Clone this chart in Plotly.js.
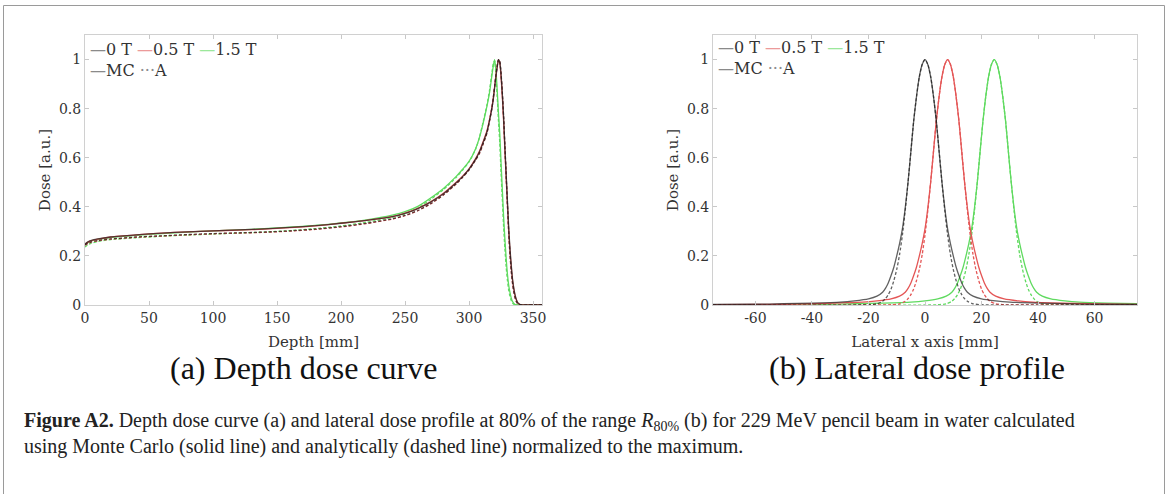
<!DOCTYPE html>
<html>
<head>
<meta charset="utf-8">
<script src="https://cdn.plot.ly/plotly-3.0.1.min.js"></script>
<style>
html,body{margin:0;padding:0;background:#fff;}
#chart{width:1168px;height:494px;}
</style>
</head>
<body>
<div id="chart"></div>
<script>
// ---------- data: (a) depth dose curve ----------
const depthMm = [0,2,5,10,20,40,60,80,100,120,140,160,180,200,220,240,250,260,270,280,290,295,300,305,308,311,314,316,318,319,320,321,322,323,324,325,326,327,328,329,330,331,332,333,334,335,336,337,338,340,345,350,357];

const depth0T_MC = [0.248,0.256,0.263,0.269,0.277,0.286,0.293,0.298,0.302,0.306,0.31,0.316,0.323,0.333,0.345,0.36,0.373,0.393,0.419,0.453,0.498,0.523,0.553,0.592,0.622,0.662,0.706,0.75,0.805,0.84,0.885,0.93,0.968,1.0,0.99,0.94,0.86,0.765,0.645,0.535,0.425,0.315,0.23,0.162,0.105,0.068,0.04,0.022,0.01,0.002,0,0,0];
const depth0T_A  = [0.245,0.251,0.257,0.263,0.269,0.277,0.282,0.287,0.291,0.294,0.297,0.302,0.309,0.319,0.333,0.351,0.365,0.385,0.413,0.449,0.494,0.521,0.551,0.591,0.617,0.657,0.702,0.752,0.807,0.848,0.892,0.937,0.975,1.0,0.992,0.945,0.868,0.77,0.652,0.532,0.412,0.3,0.208,0.14,0.09,0.053,0.029,0.014,0.006,0.001,0,0,0];
const depth05T_MC = [0.247,0.255,0.262,0.268,0.277,0.286,0.293,0.298,0.302,0.305,0.309,0.315,0.322,0.333,0.345,0.36,0.374,0.394,0.42,0.455,0.5,0.525,0.555,0.595,0.625,0.665,0.71,0.755,0.81,0.845,0.89,0.935,0.972,1.0,0.985,0.93,0.85,0.75,0.63,0.52,0.41,0.3,0.22,0.155,0.1,0.065,0.038,0.02,0.009,0.002,0,0,0];
const depth05T_A  = [0.244,0.25,0.256,0.262,0.268,0.276,0.281,0.286,0.29,0.293,0.296,0.301,0.308,0.318,0.332,0.35,0.364,0.384,0.412,0.448,0.493,0.52,0.55,0.59,0.615,0.655,0.7,0.75,0.805,0.845,0.89,0.935,0.972,1.0,0.99,0.94,0.86,0.76,0.64,0.52,0.4,0.29,0.2,0.135,0.085,0.05,0.027,0.013,0.006,0.001,0,0,0];
const depth15T_MC = [0.246,0.254,0.261,0.267,0.275,0.284,0.291,0.297,0.302,0.306,0.311,0.317,0.324,0.334,0.347,0.366,0.38,0.402,0.436,0.475,0.524,0.553,0.585,0.635,0.68,0.74,0.81,0.865,0.94,0.975,1.0,0.955,0.875,0.78,0.7,0.58,0.47,0.36,0.27,0.19,0.125,0.08,0.05,0.028,0.014,0.006,0.002,0.001,0,0,0,0,0];
const depth15T_A  = [0.236,0.245,0.252,0.259,0.266,0.274,0.28,0.285,0.289,0.293,0.297,0.303,0.311,0.322,0.337,0.357,0.372,0.395,0.43,0.47,0.52,0.55,0.583,0.633,0.68,0.745,0.815,0.875,0.95,0.985,0.995,0.935,0.85,0.75,0.66,0.54,0.43,0.32,0.23,0.155,0.1,0.06,0.035,0.018,0.008,0.003,0.001,0,0,0,0,0,0];

// ---------- data: (b) lateral dose profile ----------
const lat0T_MC_x = [-75,-60,-50,-40,-30,-25,-20,-17,-15,-14,-13,-12,-11,-10,-9,-8,-7,-6,-5,-4,-3,-2,-1,0,1,2,3,4,5,6,7,8,9,10,11,12,13,14,15,17,20,25,30,40,50,60,75];
const lat0T_MC_y = [0.002,0.003,0.005,0.008,0.012,0.017,0.025,0.036,0.052,0.068,0.09,0.12,0.155,0.2,0.25,0.31,0.395,0.5,0.625,0.75,0.85,0.93,0.98,1,0.98,0.93,0.85,0.75,0.625,0.5,0.395,0.31,0.25,0.2,0.155,0.12,0.09,0.068,0.052,0.036,0.025,0.017,0.012,0.008,0.005,0.003,0.002];
const lat0T_A_x = [-75,-20,-17,-15,-14,-13,-12,-11,-10,-9,-8,-7,-6,-5,-4,-3,-2,-1,0,1,2,3,4,5,6,7,8,9,10,11,12,13,14,15,17,20,75];
const lat0T_A_y = [0,0.001,0.005,0.015,0.026,0.042,0.065,0.1,0.145,0.205,0.285,0.385,0.5,0.625,0.75,0.85,0.93,0.98,1,0.98,0.93,0.85,0.75,0.625,0.5,0.385,0.285,0.205,0.145,0.1,0.065,0.042,0.026,0.015,0.005,0.001,0];
const lat05T_MC_x = [-75,-60,-50,-40,-30,-22,-17,-12,-9,-7,-6,-5,-4,-3,-2,-1,0,1,2,3,4,5,6,7,8,9,10,11,12,13,14,15,16,17,18,19,20,21,22,23,25,28,33,38,48,58,68,75];
const lat05T_MC_y = [0.001,0.002,0.003,0.005,0.009,0.012,0.017,0.025,0.036,0.052,0.068,0.09,0.12,0.155,0.2,0.25,0.31,0.395,0.5,0.625,0.75,0.85,0.93,0.98,1,0.98,0.93,0.85,0.75,0.625,0.5,0.395,0.31,0.25,0.2,0.155,0.12,0.09,0.068,0.052,0.036,0.025,0.017,0.012,0.008,0.005,0.003,0.002];
const lat05T_A_x = [-75,-20,-12,-9,-7,-6,-5,-4,-3,-2,-1,0,1,2,3,4,5,6,7,8,9,10,11,12,13,14,15,16,17,18,19,20,21,22,23,25,28,40,75];
const lat05T_A_y = [0,0,0.001,0.005,0.015,0.026,0.042,0.065,0.1,0.145,0.205,0.285,0.385,0.5,0.625,0.75,0.85,0.93,0.98,1,0.98,0.93,0.85,0.75,0.625,0.5,0.385,0.285,0.205,0.145,0.1,0.065,0.042,0.026,0.015,0.005,0.001,0,0];
const lat15T_MC_x = [-75,-60,-45,-35,-25,-15,-5,0,4.5,7.5,9.5,10.5,11.5,12.5,13.5,14.5,15.5,16.5,17.5,18.5,19.5,20.5,21.5,22.5,23.5,24.5,25.5,26.5,27.5,28.5,29.5,30.5,31.5,32.5,33.5,34.5,35.5,36.5,37.5,38.5,39.5,41.5,44.5,49.5,54.5,64.5,75];
const lat15T_MC_y = [0.001,0.001,0.002,0.003,0.005,0.008,0.012,0.017,0.025,0.036,0.052,0.068,0.09,0.12,0.155,0.2,0.25,0.31,0.395,0.5,0.625,0.75,0.85,0.93,0.98,1,0.98,0.93,0.85,0.75,0.625,0.5,0.395,0.31,0.25,0.2,0.155,0.12,0.09,0.068,0.052,0.036,0.025,0.017,0.012,0.008,0.006];
const lat15T_A_x = [-75,4.5,7.5,9.5,10.5,11.5,12.5,13.5,14.5,15.5,16.5,17.5,18.5,19.5,20.5,21.5,22.5,23.5,24.5,25.5,26.5,27.5,28.5,29.5,30.5,31.5,32.5,33.5,34.5,35.5,36.5,37.5,38.5,39.5,41.5,44.5,55,75];
const lat15T_A_y = [0,0.001,0.005,0.015,0.026,0.042,0.065,0.1,0.145,0.205,0.285,0.385,0.5,0.625,0.75,0.85,0.93,0.98,1,0.98,0.93,0.85,0.75,0.625,0.5,0.385,0.285,0.205,0.145,0.1,0.065,0.042,0.026,0.015,0.005,0.001,0,0];

// ---------- labels ----------
const fieldLabels = ['0 T', '0.5 T', '1.5 T'];
const methodLabels = ['MC', 'A'];
const depthTicks = [0,50,100,150,200,250,300,350];
const lateralTicks = [-60,-40,-20,0,20,40,60];
const lateralTickText = ['-60','-40','-20','0','20','40','60'];
const doseTicks = [0,0.2,0.4,0.6,0.8,1];
const subCaptions = ['(a) Depth dose curve', '(b) Lateral dose profile'];
const xTitles = ['Depth [mm]', 'Lateral x axis [mm]'];
const yTitle = 'Dose [a.u.]';
const figCaption = '<b>Figure A2.</b> Depth dose curve (a) and lateral dose profile at 80% of the range <i>R</i><sub>80%</sub> (b) for 229 MeV pencil beam in water calculated<br>using Monte Carlo (solid line) and analytically (dashed line) normalized to the maximum.';

// ---------- styling ----------
const W = 1168, H = 494;
const px = v => v / W;
const py = v => 1 - v / H;
const fieldColors = ['rgba(30,30,30,0.7)', 'rgb(228,85,85)', 'rgb(95,218,95)'];
const legendColors = ['#8a8a8a', '#ec9a9a', '#9be89b'];
const tickFont = {family: 'DejaVu Serif', size: 14, color: '#333'};

function line(x, y, color, dashed, xa, ya) {
  return {
    type: 'scatter', mode: 'lines', x: x, y: y, xaxis: xa, yaxis: ya,
    line: {color: color, width: 1.3, dash: dashed ? '3px,2px' : 'solid', shape: 'spline', smoothing: 0.6},
    showlegend: false, hoverinfo: 'skip'
  };
}

const traces = [
  line(depthMm, depth15T_MC, fieldColors[2], false, 'x', 'y'),
  line(depthMm, depth15T_A,  fieldColors[2], true,  'x', 'y'),
  line(depthMm, depth05T_MC, fieldColors[1], false, 'x', 'y'),
  line(depthMm, depth05T_A,  fieldColors[1], true,  'x', 'y'),
  line(depthMm, depth0T_MC,  fieldColors[0], false, 'x', 'y'),
  line(depthMm, depth0T_A,   fieldColors[0], true,  'x', 'y'),

  line(lat15T_MC_x, lat15T_MC_y, fieldColors[2], false, 'x2', 'y2'),
  line(lat15T_A_x,  lat15T_A_y,  fieldColors[2], true,  'x2', 'y2'),
  line(lat05T_MC_x, lat05T_MC_y, fieldColors[1], false, 'x2', 'y2'),
  line(lat05T_A_x,  lat05T_A_y,  fieldColors[1], true,  'x2', 'y2'),
  line(lat0T_MC_x,  lat0T_MC_y,  fieldColors[0], false, 'x2', 'y2'),
  line(lat0T_A_x,   lat0T_A_y,   fieldColors[0], true,  'x2', 'y2')
];

function xAxis(domain, range, ticks, tickText, title) {
  return {
    domain: domain, range: range, tickmode: 'array', tickvals: ticks, ticktext: tickText,
    ticks: 'inside', ticklen: 4, tickcolor: '#c8c8c8', tickwidth: 1,
    showline: true, linecolor: '#d0d0d0', linewidth: 1, mirror: 'ticks',
    showgrid: false, zeroline: false, tickfont: tickFont,
    title: {text: title, font: {family: 'DejaVu Serif', size: 15, color: '#333'}, standoff: 11},
    automargin: false, fixedrange: true
  };
}
function yAxis(domain, anchor) {
  return {
    domain: domain, range: [0, 1.1], tickmode: 'array', tickvals: doseTicks,
    ticks: 'inside', ticklen: 4, tickcolor: '#c8c8c8', tickwidth: 1,
    showline: true, linecolor: '#d0d0d0', linewidth: 1, mirror: 'ticks',
    showgrid: false, zeroline: false, tickfont: tickFont, anchor: anchor,
    title: {text: yTitle, font: {family: 'DejaVu Serif', size: 15, color: '#333'}, standoff: 4},
    automargin: false, fixedrange: true
  };
}

function legendText() {
  const top = fieldLabels.map((l, i) => '<span style="color:' + legendColors[i] + '">—</span>' + l).join(' ');
  const bottom = '<span style="color:#8a8a8a">—</span>' + methodLabels[0] + ' <span style="color:#8a8a8a">···</span>' + methodLabels[1];
  return top + '<br>' + bottom;
}

const yDom = [py(305), py(35)];
const layout = {
  width: W, height: H,
  margin: {l: 0, r: 0, t: 0, b: 0, pad: 0},
  paper_bgcolor: '#fff', plot_bgcolor: '#fff',
  showlegend: false,
  font: {family: 'DejaVu Serif', color: '#333'},
  xaxis: xAxis([px(85), px(542)], [0, 357], depthTicks, depthTicks.map(String), xTitles[0]),
  yaxis: yAxis(yDom, 'x'),
  xaxis2: Object.assign(xAxis([px(713), px(1137)], [-75, 75], lateralTicks, lateralTickText, xTitles[1]), {anchor: 'y2'}),
  yaxis2: yAxis(yDom, 'x2'),
  shapes: [
    {type: 'rect', xref: 'paper', yref: 'paper', x0: px(3.5), x1: px(1164.5), y0: py(520), y1: py(5.5),
     line: {color: '#9a9a9a', width: 1}, fillcolor: 'rgba(0,0,0,0)', layer: 'below'}
  ],
  annotations: [
    {xref: 'paper', yref: 'paper', x: px(88), y: py(38), xanchor: 'left', yanchor: 'top', align: 'left',
     text: legendText(), showarrow: false, font: {family: 'DejaVu Serif', size: 16, color: '#333'}},
    {xref: 'paper', yref: 'paper', x: px(716), y: py(36), xanchor: 'left', yanchor: 'top', align: 'left',
     text: legendText(), showarrow: false, font: {family: 'DejaVu Serif', size: 16, color: '#333'}},
    {xref: 'paper', yref: 'paper', x: px(303), y: py(368), xanchor: 'center', yanchor: 'middle',
     text: subCaptions[0], showarrow: false, font: {family: 'Liberation Serif', size: 32, color: '#111'}},
    {xref: 'paper', yref: 'paper', x: px(917), y: py(368), xanchor: 'center', yanchor: 'middle',
     text: subCaptions[1], showarrow: false, font: {family: 'Liberation Serif', size: 32, color: '#111'}},
    {xref: 'paper', yref: 'paper', x: px(22), y: py(433), xanchor: 'left', yanchor: 'middle', align: 'left',
     text: figCaption, showarrow: false, font: {family: 'Liberation Serif', size: 20, color: '#222'}}
  ]
};

Plotly.newPlot('chart', traces, layout, {displayModeBar: false, staticPlot: true});
</script>
</body>
</html>
